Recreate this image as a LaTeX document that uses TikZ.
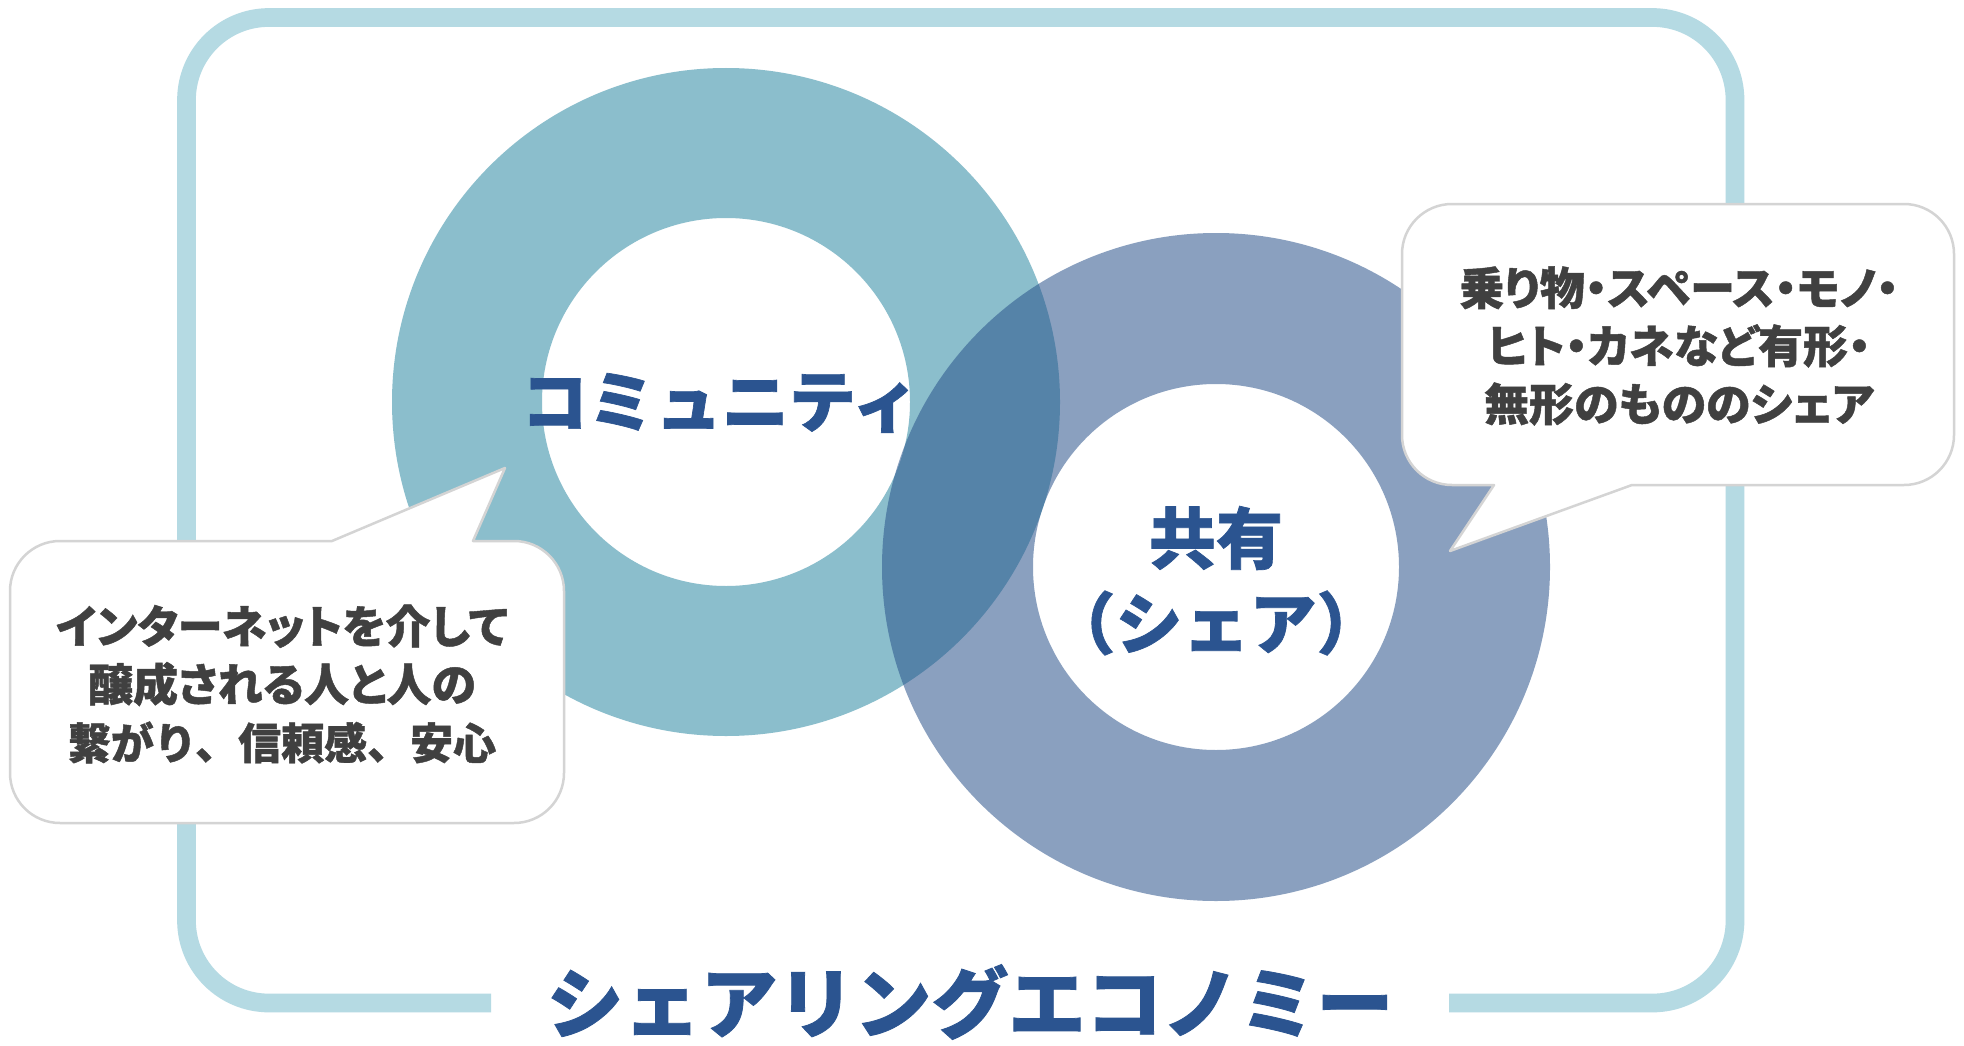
\documentclass[tikz,border=0pt]{standalone}
\usepackage{fontspec}
\newfontfamily\jp{Noto Sans CJK JP}[BoldFeatures={FakeBold=1}]
\newfontfamily\jpp{Noto Sans CJK JP}[RawFeature=+palt, BoldFeatures={FakeBold=1}]
\definecolor{framec}{HTML}{B5DAE3}
\definecolor{teala}{HTML}{8BBECC}
\definecolor{blueb}{HTML}{28518A}
\definecolor{titleblue}{HTML}{2B5490}
\definecolor{textgray}{HTML}{404040}
\definecolor{bubbleline}{HTML}{D4D4D4}
\tikzset{
  bubble/.style={fill=white, draw=bubbleline, line width=2.5pt, line join=round},
  bubbletext/.style={text=textgray, font=\jpp\bfseries\fontsize{45}{58}\selectfont, align=center, inner sep=0pt},
  ringlabel/.style={text=titleblue, font=\jp\bfseries\fontsize{67}{84}\selectfont, align=center, inner sep=0pt},
  titletext/.style={text=titleblue, font=\jp\bfseries\fontsize{77}{90}\selectfont, inner sep=0pt}
}
\begin{document}
\begin{tikzpicture}[x=1pt,y=-1pt]
\useasboundingbox (0,0) rectangle (1964,1046);
\fill[white] (0,0) rectangle (1964,1046);
% outer frame with gap for title
\draw[framec, line width=18.7pt] (1449,1003) -- (1652.5,1003)
  arc[start angle=90,end angle=0,radius=82.5] -- (1735,100)
  arc[start angle=0,end angle=-90,radius=82.5] -- (269,17.5)
  arc[start angle=-90,end angle=-180,radius=82.5] -- (186.5,920.5)
  arc[start angle=180,end angle=90,radius=82.5] -- (491,1003);
% rings
\fill[teala, even odd rule] (726,402) circle[radius=334] (726,402) circle[radius=184];
\fill[blueb, fill opacity=0.54, even odd rule] (1216,567) circle[radius=334] (1216,567) circle[radius=183];
% ring labels
\node[ringlabel] (community) at (720,403) {コミュニティ};
\node[ringlabel] (share) at (1216,538) {共有};
\node[ringlabel] (sharekana) at (1216,623) {（シェア）};
% left bubble
\draw[bubble] (60,541) -- (332,541) -- (505,468) -- (473,541) -- (514,541)
  arc[start angle=-90,end angle=0,radius=50] -- (564,773)
  arc[start angle=0,end angle=90,radius=50] -- (60,823)
  arc[start angle=90,end angle=180,radius=50] -- (10,591)
  arc[start angle=180,end angle=270,radius=50] -- cycle;
\node[bubbletext] (lefttext) at (282,684) {インターネットを介して\\醸成される人と人の\\{\jp\bfseries\fontsize{43}{58}\selectfont 繋がり、信頼感、安心}};
% right bubble
\draw[bubble] (1452,204) -- (1904,204)
  arc[start angle=-90,end angle=0,radius=50] -- (1954,435)
  arc[start angle=0,end angle=90,radius=50] -- (1632,485) -- (1450,551) -- (1494,485) -- (1452,485)
  arc[start angle=90,end angle=180,radius=50] -- (1402,254)
  arc[start angle=180,end angle=270,radius=50] -- cycle;
\node[bubbletext] (righttext) at (1679,346) {乗り物・スペース・モノ・\\ヒト・カネなど有形・\\無形のもののシェア};
% title
\node[titletext] (title) at (970,1002) {シェアリングエコノミー};
\end{tikzpicture}
\end{document}
